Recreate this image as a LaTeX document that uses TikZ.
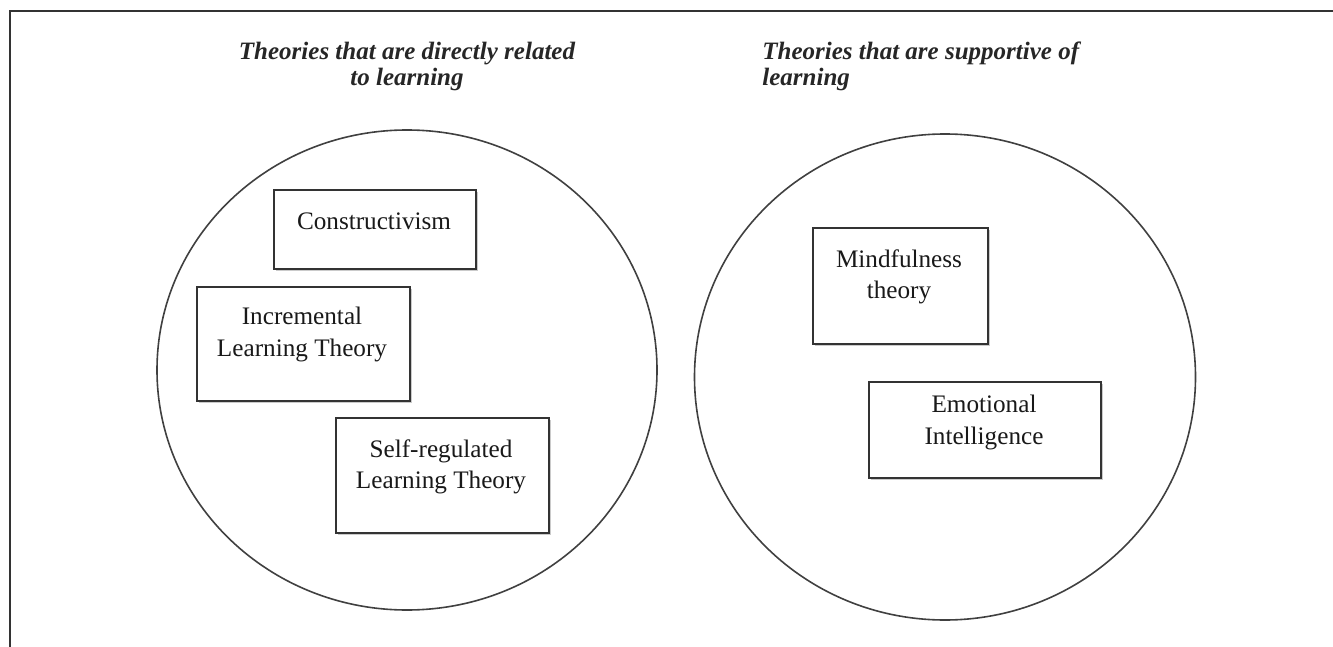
\documentclass[tikz,border=0pt]{standalone}
\usepackage{fontspec}
\setmainfont{Liberation Serif}
\usetikzlibrary{shadows,shapes.geometric}
\begin{document}
\begin{tikzpicture}[x=0.5pt,y=-0.5pt,
  frame/.style={draw=black!80, line width=1pt},
  circ/.style={draw=black!75, line width=0.8pt},
  tbox/.style={draw=black!80, line width=0.9pt, fill=white, anchor=north west, inner sep=0pt,
    drop shadow={shadow xshift=0.8pt, shadow yshift=-0.8pt, fill=black!35, opacity=0.6}},
  lbl/.style={anchor=base, inner sep=0pt, font=\fontsize{12.6pt}{16pt}\selectfont, text=black!90},
  ttl/.style={anchor=base, inner sep=0pt, font=\fontsize{12.5pt}{15pt}\selectfont\bfseries\itshape, text=black!85}
]
\useasboundingbox (0,0) rectangle (1333,647);
% frame
\coordinate (fa) at (10,647);
\coordinate (fb) at (10,11);
\coordinate (fc) at (1333,11);
\draw[frame] (fa) -- (fb) -- (fc);

% titles
\node[ttl] (t1a) at (407,60) {Theories that are directly related};
\node[ttl] (t1b) at (407,86) {to learning};
\node[ttl, anchor=base west] (t2a) at (762,60) {Theories that are supportive of};
\node[ttl, anchor=base west] (t2b) at (762,86) {learning};

% circles
\node[circ, ellipse, minimum width=250pt, minimum height=240pt, inner sep=0pt] (cl) at (407,370) {};
\node[circ, ellipse, minimum width=250.5pt, minimum height=243pt, inner sep=0pt] (cr) at (945,377) {};

% boxes left
\node[tbox, minimum width=101pt, minimum height=39.5pt] (b1) at (273,189) {};
\node[lbl] (l1) at (374,229) {Constructivism};

\node[tbox, minimum width=106.5pt, minimum height=57pt] (b2) at (196,286) {};
\node[lbl] (l2a) at (302,324) {Incremental};
\node[lbl] (l2b) at (302,356) {Learning Theory};

\node[tbox, minimum width=106.5pt, minimum height=57.5pt] (b3) at (335,417) {};
\node[lbl] (l3a) at (441,457) {Self-regulated};
\node[lbl] (l3b) at (441,488) {Learning Theory};

% boxes right
\node[tbox, minimum width=87.5pt, minimum height=58pt] (b4) at (812,227) {};
\node[lbl] (l4a) at (899,267) {Mindfulness};
\node[lbl] (l4b) at (899,298) {theory};

\node[tbox, minimum width=116pt, minimum height=48pt] (b5) at (868,381) {};
\node[lbl] (l5a) at (984,412) {Emotional};
\node[lbl] (l5b) at (984,444) {Intelligence};
\end{tikzpicture}
\end{document}
